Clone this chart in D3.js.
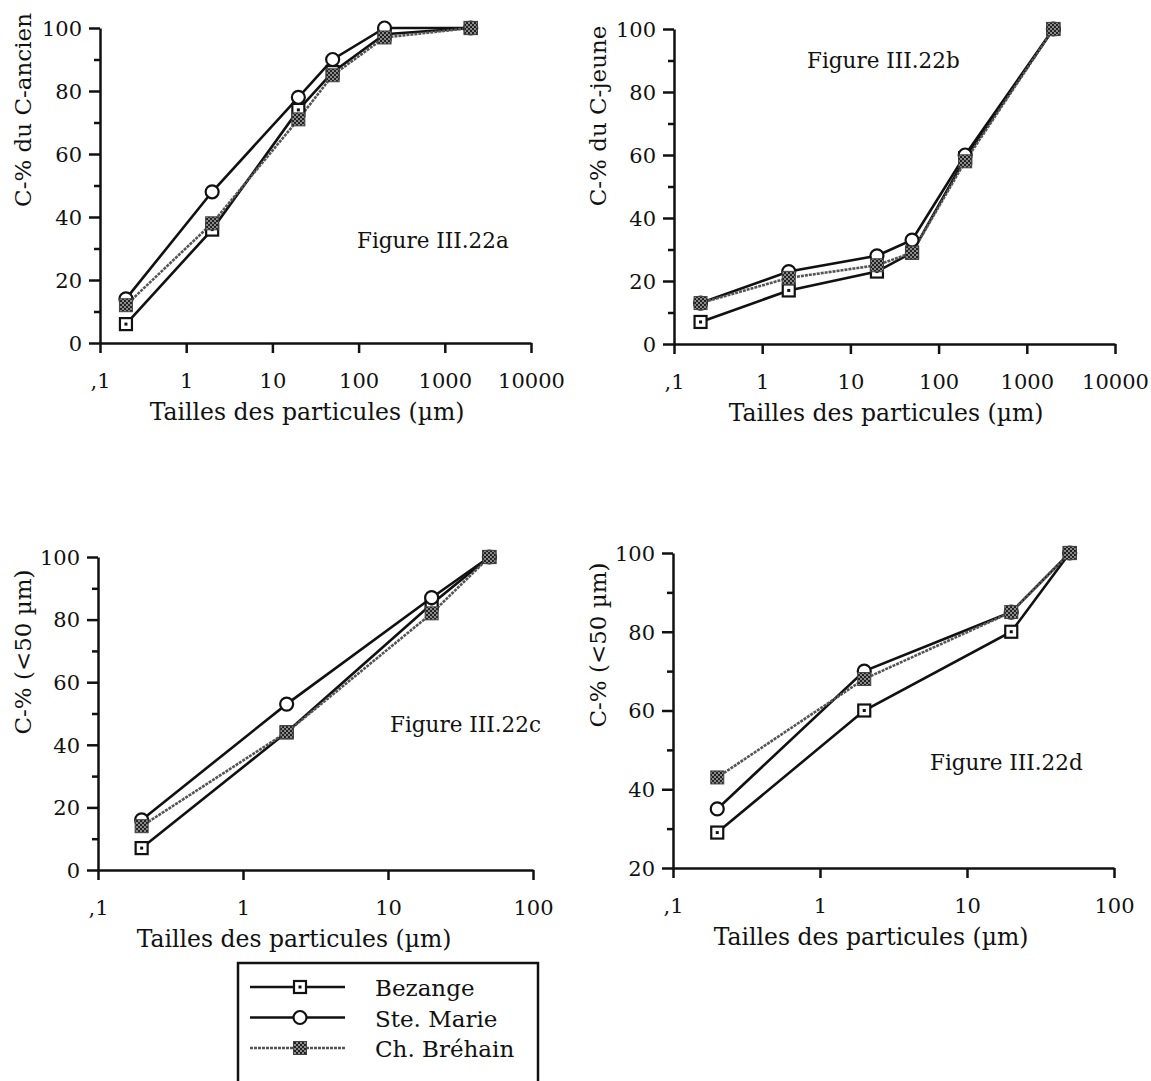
<!DOCTYPE html>
<html lang="fr">
<head>
<meta charset="UTF-8" />
<title>Figure III.22</title>
<style>
  body { margin: 0; background: #fff; }
  svg { display: block; background: #fff; }
  text { font-family: "DejaVu Serif", serif; fill: #111; }
  .axis path, .axis line { stroke: #111; stroke-width: 2.5px; }
</style>
</head>
<body>
<svg id="chart" width="1151" height="1081"></svg>
<script src="https://d3js.org/d3.v7.min.js"></script>
<script>
// particle size classes (µm)
const sizesAll = [0.2, 2, 20, 50, 200, 2000];
const sizesFine = [0.2, 2, 20, 50];
const seriesNames = ["Bezange", "Ste. Marie", "Ch. Bréhain"];

// Figure III.22a - C-% du C-ancien
const ancienBezange = [6, 36, 74, 86, 98, 100];
const ancienMarie = [14, 48, 78, 90, 100, 100];
const ancienBrehain = [12, 38, 71, 85, 97, 100];

// Figure III.22b - C-% du C-jeune
const jeuneBezange = [7, 17, 23, 29, 59, 100];
const jeuneMarie = [13, 23, 28, 33, 60, 100];
const jeuneBrehain = [13, 21, 25, 29, 58, 100];

// Figure III.22c - C-% (<50 µm)
const fineCBezange = [7, 44, 85, 100];
const fineCMarie = [16, 53, 87, 100];
const fineCBrehain = [14, 44, 82, 100];

// Figure III.22d - C-% (<50 µm)
const fineDBezange = [29, 60, 80, 100];
const fineDMarie = [35, 70, 85, 100];
const fineDBrehain = [43, 68, 85, 100];

const ticksWide = [0.1, 1, 10, 100, 1000, 10000];
const ticksNarrow = [0.1, 1, 10, 100];

const panels = [
  { sizes: sizesAll, values: [ancienBezange, ancienMarie, ancienBrehain],
    xr: [100, 531], yr: [343, 28], yDom: [0, 100], xTicks: ticksWide,
    yTitle: "C-% du C-ancien", yTitlePos: [31, 110],
    xTitlePos: [307, 420], fig: "Figure III.22a", figPos: [357, 248] },
  { sizes: sizesAll, values: [jeuneBezange, jeuneMarie, jeuneBrehain],
    xr: [674, 1115], yr: [344, 29], yDom: [0, 100], xTicks: ticksWide,
    yTitle: "C-% du C-jeune", yTitlePos: [606, 116],
    xTitlePos: [886, 421], fig: "Figure III.22b", figPos: [807, 68] },
  { sizes: sizesFine, values: [fineCBezange, fineCMarie, fineCBrehain],
    xr: [98, 533], yr: [870, 557], yDom: [0, 100], xTicks: ticksNarrow,
    yTitle: "C-% (<50 µm)", yTitlePos: [31, 652],
    xTitlePos: [294, 947], fig: "Figure III.22c", figPos: [390, 732] },
  { sizes: sizesFine, values: [fineDBezange, fineDMarie, fineDBrehain],
    xr: [673, 1114], yr: [868, 553], yDom: [20, 100], xTicks: ticksNarrow,
    yTitle: "C-% (<50 µm)", yTitlePos: [606, 645],
    xTitlePos: [871, 945], fig: "Figure III.22d", figPos: [930, 770] }
];

const svg = d3.select("#chart");

// checker fill for the Ch. Bréhain markers
const defs = svg.append("defs");
const pat = defs.append("pattern").attr("id", "chk")
  .attr("width", 4).attr("height", 4).attr("patternUnits", "userSpaceOnUse");
pat.append("rect").attr("width", 4).attr("height", 4).attr("fill", "#8a8a8a");
pat.append("rect").attr("width", 2).attr("height", 2).attr("fill", "#222");
pat.append("rect").attr("x", 2).attr("y", 2).attr("width", 2).attr("height", 2).attr("fill", "#222");

const lineStyle = [
  { stroke: "#111", width: 2.6, dash: null },
  { stroke: "#111", width: 2.6, dash: null },
  { stroke: "#555", width: 2.6, dash: "3,1" }
];

function drawMarker(g, k, x, y) {
  if (k === 0) {
    g.append("rect").attr("x", x - 6).attr("y", y - 6).attr("width", 12).attr("height", 12)
      .attr("fill", "#fff").attr("stroke", "#111").attr("stroke-width", 2.2);
    g.append("rect").attr("x", x - 1.5).attr("y", y - 1.5).attr("width", 3).attr("height", 3)
      .attr("fill", "#111");
  } else if (k === 1) {
    g.append("circle").attr("cx", x).attr("cy", y).attr("r", 6.5)
      .attr("fill", "#fff").attr("stroke", "#111").attr("stroke-width", 2.2);
  } else {
    g.append("rect").attr("x", x - 6.5).attr("y", y - 6.5).attr("width", 13).attr("height", 13)
      .attr("fill", "url(#chk)").attr("stroke", "#444").attr("stroke-width", 1);
  }
}

panels.forEach(p => {
  const x = d3.scaleLog().domain([0.1, p.xTicks[p.xTicks.length - 1]]).range(p.xr);
  const y = d3.scaleLinear().domain(p.yDom).range(p.yr);
  const g = svg.append("g");

  // minor y ticks
  const minor = d3.range(p.yDom[0] + 10, p.yDom[1], 20);
  g.append("g").attr("class", "axis").attr("transform", `translate(${p.xr[0]},0)`)
    .call(d3.axisLeft(y).tickValues(minor).tickSize(6).tickSizeOuter(0).tickFormat(""))
    .select(".domain").remove();

  const yAx = g.append("g").attr("class", "axis").attr("transform", `translate(${p.xr[0]},0)`)
    .call(d3.axisLeft(y).tickValues(d3.range(p.yDom[0], p.yDom[1] + 1, 20))
      .tickSize(11).tickSizeOuter(0).tickPadding(7));
  const xAx = g.append("g").attr("class", "axis").attr("transform", `translate(0,${p.yr[0]})`)
    .call(d3.axisBottom(x).tickValues(p.xTicks).tickSize(10).tickSizeOuter(0).tickPadding(20)
      .tickFormat(d => d === 0.1 ? ",1" : d3.format("d")(d)));
  [yAx, xAx].forEach(a => {
    a.attr("font-family", null).attr("font-size", null);
    a.selectAll("text").attr("font-size", 21).attr("fill", "#111");
  });
  yAx.selectAll("text").attr("dy", "0.35em");

  // titles
  g.append("text").attr("transform", `translate(${p.yTitlePos[0]},${p.yTitlePos[1]}) rotate(-90)`)
    .attr("text-anchor", "middle").attr("font-size", 23).text(p.yTitle);
  g.append("text").attr("x", p.xTitlePos[0]).attr("y", p.xTitlePos[1])
    .attr("text-anchor", "middle").attr("font-size", 23.5).text("Tailles des particules (µm)");
  g.append("text").attr("x", p.figPos[0]).attr("y", p.figPos[1])
    .attr("font-size", 21.5).text(p.fig);

  // lines
  const line = d3.line().x(d => x(d[0])).y(d => y(d[1]));
  p.values.forEach((vals, k) => {
    const pts = p.sizes.map((s, i) => [s, vals[i]]);
    g.append("path").attr("d", line(pts)).attr("fill", "none")
      .attr("stroke", lineStyle[k].stroke).attr("stroke-width", lineStyle[k].width)
      .attr("stroke-dasharray", lineStyle[k].dash);
  });
  // markers
  p.values.forEach((vals, k) => {
    const mg = g.append("g");
    p.sizes.forEach((s, i) => drawMarker(mg, k, x(s), y(vals[i])));
  });
});

// legend
const leg = svg.append("g");
leg.append("rect").attr("x", 238).attr("y", 963).attr("width", 300).attr("height", 200)
  .attr("fill", "none").attr("stroke", "#111").attr("stroke-width", 2.5);
const legY = d3.scalePoint().domain(seriesNames).range([987, 1048]);
seriesNames.forEach((name, k) => {
  const yy = legY(name);
  leg.append("line").attr("x1", 250).attr("x2", 345).attr("y1", yy).attr("y2", yy)
    .attr("stroke", lineStyle[k].stroke).attr("stroke-width", lineStyle[k].width)
    .attr("stroke-dasharray", lineStyle[k].dash);
  drawMarker(leg, k, 300, yy);
  leg.append("text").attr("x", 375).attr("y", yy + 9).attr("font-size", 23).text(name);
});
</script>
</body>
</html>
